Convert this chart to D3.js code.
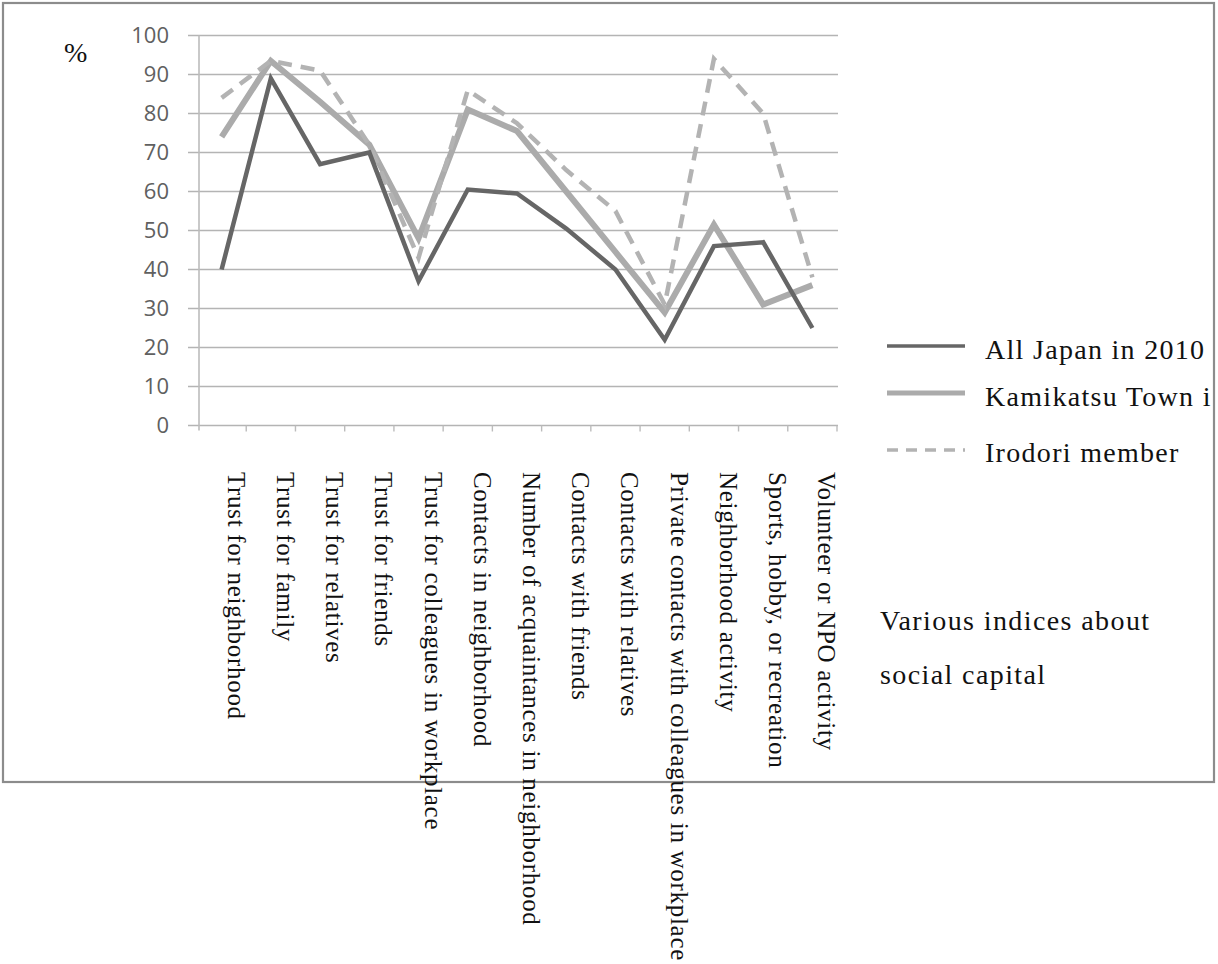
<!DOCTYPE html>
<html>
<head>
<meta charset="utf-8">
<script src="https://cdn.jsdelivr.net/npm/d3@7"></script>
<style>
  html, body { margin: 0; padding: 0; background: #fff; }
  svg { display: block; }
</style>
</head>
<body>
<script>
// ---- data ----
const categories = [
  "Trust for neighborhood",
  "Trust for family",
  "Trust for relatives",
  "Trust for friends",
  "Trust for colleagues in workplace",
  "Contacts in neighborhood",
  "Number of acquaintances in neighborhood",
  "Contacts with friends",
  "Contacts with relatives",
  "Private contacts with colleagues in workplace",
  "Neighborhood activity",
  "Sports, hobby, or recreation",
  "Volunteer or NPO activity"
];
const allJapan  = [40, 89, 67, 70, 37, 60.5, 59.5, 50.5, 40, 22, 46, 47, 25];
const kamikatsu = [74, 93.5, 83, 72, 48, 81, 75.5, 60, 44.5, 29, 51.5, 31, 36];
const irodori   = [84, 93.5, 91, 72, 43, 86, 77.5, 65.5, 55, 31, 94, 80, 38];
const seriesNames = ["All Japan in 2010", "Kamikatsu Town i", "Irodori member"];
const yTicks = [0, 10, 20, 30, 40, 50, 60, 70, 80, 90, 100];
const unitLabel = "%";
const noteLines = ["Various indices about", "social capital"];

// ---- drawing ----
const W = 1218, H = 964;
const svg = d3.select("body").append("svg").attr("width", W).attr("height", H);

const x = d3.scaleBand().domain(categories).range([197, 837]);
const y = d3.scaleLinear().domain([0, 100]).range([425.5, 35.5]);
const cx = c => x(c) + x.bandwidth() / 2;

// frame
svg.append("rect")
  .attr("x", 3).attr("y", 3).attr("width", 1211).attr("height", 779)
  .attr("fill", "none").attr("stroke", "#8c8c8c").attr("stroke-width", 2.2);

// gridlines
svg.append("g").selectAll("line").data(yTicks).join("line")
  .attr("x1", 188).attr("x2", 838)
  .attr("y1", d => y(d)).attr("y2", d => y(d))
  .attr("stroke", "#b4b4b4").attr("stroke-width", 1.6);

// y axis line
svg.append("line")
  .attr("x1", 199).attr("x2", 199).attr("y1", y(100)).attr("y2", y(0) + 5)
  .attr("stroke", "#bcbcbc").attr("stroke-width", 1.6);

// x ticks at category boundaries
svg.append("g").selectAll("line").data(categories).join("line")
  .attr("x1", d => x(d) + x.bandwidth()).attr("x2", d => x(d) + x.bandwidth())
  .attr("y1", y(0)).attr("y2", y(0) + 6)
  .attr("stroke", "#bcbcbc").attr("stroke-width", 1.4);

// y tick labels
svg.append("g").selectAll("text").data(yTicks).join("text")
  .attr("x", 169).attr("y", d => y(d))
  .attr("dy", "0.36em")
  .attr("text-anchor", "end")
  .attr("font-family", "'Open Sans', Lato, sans-serif")
  .attr("font-size", 22)
  .attr("fill", "#606060")
  .text(d => d);

// unit label
svg.append("text")
  .attr("x", 64).attr("y", 62)
  .attr("font-family", "'Liberation Serif', 'Times New Roman', serif")
  .attr("font-size", 28).attr("fill", "#111")
  .text(unitLabel);

// lines
const line = d3.line().x((d, i) => cx(categories[i])).y(d => y(d));
const styles = [
  { data: allJapan, stroke: "#666666", width: 4.5, dash: null },
  { data: kamikatsu, stroke: "#ababab", width: 6, dash: null },
  { data: irodori, stroke: "#b3b3b3", width: 4.5, dash: "14,9" }
];
[styles[1], styles[2], styles[0]].forEach(s => {
  svg.append("path")
    .attr("d", line(s.data))
    .attr("fill", "none")
    .attr("stroke", s.stroke)
    .attr("stroke-width", s.width)
    .attr("stroke-linejoin", "miter")
    .attr("stroke-dasharray", s.dash);
});

// category labels (rotated, reading downward)
svg.append("g").selectAll("text").data(categories).join("text")
  .attr("transform", d => `translate(${cx(d) + 6},472) rotate(90)`)
  .attr("font-family", "'Liberation Serif', 'Times New Roman', serif")
  .attr("font-size", 25)
  .attr("letter-spacing", 0.7)
  .attr("fill", "#111")
  .text(d => d);

// legend
const legendY = [346, 393, 450];
const legendBase = [359, 406, 462];
styles.forEach((s, i) => {
  svg.append("line")
    .attr("x1", 887).attr("x2", 965)
    .attr("y1", legendY[i]).attr("y2", legendY[i])
    .attr("stroke", s.stroke).attr("stroke-width", s.width * 0.8)
    .attr("stroke-dasharray", s.dash ? "11,8" : null);
  svg.append("text")
    .attr("x", 985).attr("y", legendBase[i])
    .attr("font-family", "'Liberation Serif', 'Times New Roman', serif")
    .attr("font-size", 28).attr("letter-spacing", 1.3)
    .attr("fill", "#111")
    .text(seriesNames[i]);
});

// note
noteLines.forEach((t, i) => {
  svg.append("text")
    .attr("x", 880).attr("y", 630 + i * 54)
    .attr("font-family", "'Liberation Serif', 'Times New Roman', serif")
    .attr("font-size", 28).attr("letter-spacing", 1.4)
    .attr("fill", "#111")
    .text(t);
});
</script>
</body>
</html>
